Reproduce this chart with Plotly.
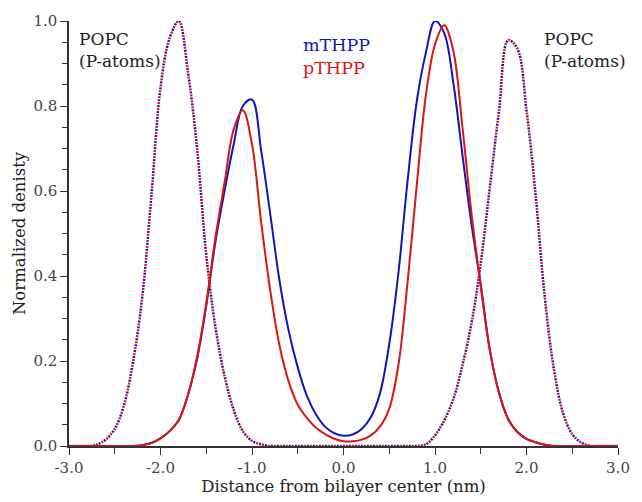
import plotly.graph_objects as go

# distance from bilayer centre (nm), 0.1 nm grid
x_nm = [round(-3.0 + 0.1 * i, 1) for i in range(61)]

mthpp = [0, 0, 0, 0, 0, 0, 0, 0, 0.002, 0.007,
         0.018, 0.035, 0.061, 0.12, 0.205, 0.33, 0.48, 0.60, 0.71, 0.80,
         0.815, 0.695, 0.545, 0.39, 0.272, 0.185, 0.118, 0.074, 0.045, 0.03,
         0.024,
         0.027, 0.04, 0.068, 0.125, 0.24, 0.407, 0.623, 0.81, 0.925, 1.0,
         0.972, 0.855, 0.685, 0.52, 0.38, 0.225, 0.125, 0.063, 0.033, 0.017,
         0.009, 0.003, 0, 0, 0, 0, 0, 0, 0, 0]

pthpp = [0, 0, 0, 0, 0, 0, 0, 0, 0.002, 0.007,
         0.018, 0.035, 0.061, 0.12, 0.21, 0.335, 0.49, 0.62, 0.745, 0.79,
         0.71, 0.527, 0.365, 0.237, 0.152, 0.097, 0.066, 0.043, 0.028, 0.017,
         0.011,
         0.011, 0.015, 0.025, 0.046, 0.088, 0.19, 0.385, 0.612, 0.825, 0.945,
         0.99, 0.93, 0.75, 0.545, 0.375, 0.225, 0.125, 0.063, 0.033, 0.017,
         0.009, 0.003, 0, 0, 0, 0, 0, 0, 0, 0]

popc_m = [0, 0, 0, 0.003, 0.015, 0.04, 0.095, 0.198, 0.349, 0.587,
          0.843, 0.96, 1.0, 0.88, 0.70, 0.45, 0.28, 0.165, 0.085, 0.035,
          0.012, 0.004, 0, 0, 0, 0, 0, 0, 0, 0,
          0,
          0, 0, 0, 0, 0, 0, 0, 0, 0.004, 0.025,
          0.06, 0.11, 0.19, 0.29, 0.43, 0.61, 0.79, 0.955, 0.935, 0.79,
          0.59, 0.35, 0.18, 0.077, 0.028, 0.008, 0, 0, 0, 0]

popc_p = list(popc_m)

x_ticks = [-3.0, -2.0, -1.0, 0.0, 1.0, 2.0, 3.0]
x_ticktext = ["-3.0", "-2.0", "-1.0", "0.0", "1.0", "2.0", "3.0"]
y_ticks = [0.0, 0.2, 0.4, 0.6, 0.8, 1.0]
y_ticktext = ["0.0", "0.2", "0.4", "0.6", "0.8", "1.0"]

BLUE = "#1515b4"
RED = "#dc1414"
FONT = "DejaVu Serif"

fig = go.Figure()
fig.add_trace(go.Scatter(x=x_nm, y=popc_m, mode="lines", line_shape="spline",
                         line=dict(color=BLUE, width=2.5, dash="2px,4px"),
                         showlegend=False))
fig.add_trace(go.Scatter(x=x_nm, y=popc_p, mode="lines", line_shape="spline",
                         line=dict(color=RED, width=2.5, dash="0px,3px,2px,1px"),
                         showlegend=False))
fig.add_trace(go.Scatter(x=x_nm, y=mthpp, mode="lines", line_shape="spline",
                         line=dict(color=BLUE, width=2), showlegend=False))
fig.add_trace(go.Scatter(x=x_nm, y=pthpp, mode="lines", line_shape="spline",
                         line=dict(color=RED, width=2), showlegend=False))

axis_common = dict(showgrid=False, zeroline=False, showline=True,
                   linecolor="#333333", linewidth=1.5, ticks="outside",
                   ticklen=7, tickwidth=1.3, tickcolor="#333333",
                   tickfont=dict(family=FONT, size=15, color="#444444"))

fig.update_xaxes(range=[-3, 3], tickmode="array", tickvals=x_ticks,
                 ticktext=x_ticktext,
                 minor=dict(dtick=0.5, ticks="outside", ticklen=6,
                            tickwidth=1.3, tickcolor="#333333"),
                 title=dict(text="Distance from bilayer center (nm)",
                            font=dict(family=FONT, size=16.5, color="#222222"),
                            standoff=2),
                 **axis_common)
fig.update_yaxes(range=[0, 1.0], tickmode="array", tickvals=y_ticks,
                 ticktext=y_ticktext,
                 minor=dict(dtick=0.05, ticks="outside", ticklen=5,
                            tickwidth=1.3, tickcolor="#333333"),
                 title=dict(text="Normalized denisty",
                            font=dict(family=FONT, size=16.5, color="#222222"),
                            standoff=4),
                 **axis_common)

ann_font = dict(family=FONT, size=17, color="#222222")
fig.add_annotation(xref="paper", yref="paper", x=0.014, y=0.985,
                   xanchor="left", yanchor="top", align="left",
                   text="POPC<br>(P-atoms)", showarrow=False, font=ann_font)
fig.add_annotation(xref="paper", yref="paper", x=0.861, y=0.985,
                   xanchor="left", yanchor="top", align="left",
                   text="POPC<br>(P-atoms)", showarrow=False, font=ann_font)
fig.add_annotation(xref="paper", yref="paper", x=0.423, y=0.972,
                   xanchor="left", yanchor="top", align="left",
                   text="mTHPP", showarrow=False,
                   font=dict(family=FONT, size=17.5, color=BLUE))
fig.add_annotation(xref="paper", yref="paper", x=0.423, y=0.918,
                   xanchor="left", yanchor="top", align="left",
                   text="pTHPP", showarrow=False,
                   font=dict(family=FONT, size=17.5, color=RED))

fig.update_layout(width=642, height=502,
                  margin=dict(l=69, r=14, t=20, b=49),
                  paper_bgcolor="white", plot_bgcolor="white")

fig.write_html("out.html")
